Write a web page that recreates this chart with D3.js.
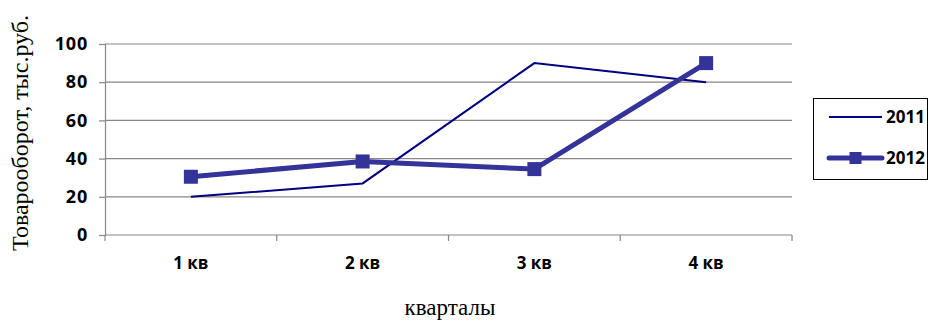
<!DOCTYPE html>
<html>
<head>
<meta charset="utf-8">
<script src="https://cdn.jsdelivr.net/npm/d3@7"></script>
<style>
  html, body { margin: 0; padding: 0; background: #fff; }
  svg { display: block; }
</style>
</head>
<body>
<svg id="chart" width="931" height="322"></svg>
<script>
// Quarterly turnover, thousand rubles
const quarters = ["1 кв", "2 кв", "3 кв", "4 кв"];
const values2011 = [20, 27, 90, 80];
const values2012 = [30.5, 38.5, 34.5, 90];
const yTicks = [0, 20, 40, 60, 80, 100];
const seriesNames = ["2011", "2012"];

const svg = d3.select("#chart");
const plot = { left: 105, right: 792, top: 44, bottom: 235 };

const x = d3.scaleBand().domain(quarters).range([plot.left, plot.right]).padding(0);
const y = d3.scaleLinear().domain([0, 100]).range([plot.bottom, plot.top]);

const boldFont = "'Open Sans', 'Liberation Sans', sans-serif";
const serifFont = "'Liberation Serif', 'DejaVu Serif', serif";

// horizontal gridlines
svg.append("g")
  .selectAll("line")
  .data(yTicks.filter(d => d > 0))
  .join("line")
  .attr("x1", plot.left).attr("x2", plot.right)
  .attr("y1", d => y(d)).attr("y2", d => y(d))
  .attr("stroke", "#868686").attr("stroke-width", 1.2);

// y axis
const yAxis = svg.append("g")
  .attr("transform", `translate(${plot.left},0)`)
  .call(d3.axisLeft(y).tickValues(yTicks).tickSize(6).tickPadding(11));
yAxis.attr("font-family", boldFont).attr("font-size", 18);
yAxis.select(".domain").attr("stroke", "#868686").attr("stroke-width", 1.2);
yAxis.selectAll(".tick line").attr("stroke", "#868686").attr("stroke-width", 1.2);
yAxis.selectAll("text")
  .attr("font-weight", "bold").attr("fill", "#000")
  .attr("letter-spacing", 0.8);

// x axis with ticks on category boundaries
const xAxisG = svg.append("g").attr("transform", `translate(0,${plot.bottom})`);
xAxisG.append("line")
  .attr("x1", plot.left).attr("x2", plot.right)
  .attr("stroke", "#868686").attr("stroke-width", 1.2);
const boundaries = quarters.map(q => x(q)).concat([x(quarters[quarters.length - 1]) + x.bandwidth()]);
xAxisG.selectAll("line.tick")
  .data(boundaries)
  .join("line").attr("class", "tick")
  .attr("x1", d => d).attr("x2", d => d)
  .attr("y1", 0).attr("y2", 6)
  .attr("stroke", "#868686").attr("stroke-width", 1.2);
xAxisG.selectAll("text")
  .data(quarters)
  .join("text")
  .attr("x", d => x(d) + x.bandwidth() / 2)
  .attr("y", 34)
  .attr("text-anchor", "middle")
  .attr("font-family", boldFont).attr("font-weight", "bold")
  .attr("font-size", 17).attr("fill", "#000")
  .text(d => d);

const cx = d => x(d) + x.bandwidth() / 2;
const line = d3.line().x(d => cx(d.q)).y(d => y(d.v));

// 2011 series: thin navy line
svg.append("path")
  .datum(quarters.map((q, i) => ({ q, v: values2011[i] })))
  .attr("d", line)
  .attr("fill", "none")
  .attr("stroke", "#000080").attr("stroke-width", 2);

// 2012 series: thick line with square markers
const data2012 = quarters.map((q, i) => ({ q, v: values2012[i] }));
svg.append("path")
  .datum(data2012)
  .attr("d", line)
  .attr("fill", "none")
  .attr("stroke", "#333399").attr("stroke-width", 5)
  .attr("stroke-linejoin", "round");
const ms = 14;
svg.append("g").selectAll("rect")
  .data(data2012)
  .join("rect")
  .attr("x", d => cx(d.q) - ms / 2).attr("y", d => y(d.v) - ms / 2)
  .attr("width", ms).attr("height", ms)
  .attr("fill", "#333399");

// legend
const legend = svg.append("g");
legend.append("rect")
  .attr("x", 813.5).attr("y", 98.5).attr("width", 114).attr("height", 81)
  .attr("fill", "#fff").attr("stroke", "#000").attr("stroke-width", 1);
const legY = [117, 158];
legend.append("line")
  .attr("x1", 829).attr("x2", 882).attr("y1", legY[0]).attr("y2", legY[0])
  .attr("stroke", "#000080").attr("stroke-width", 2);
legend.append("line")
  .attr("x1", 829).attr("x2", 882).attr("y1", legY[1]).attr("y2", legY[1])
  .attr("stroke", "#333399").attr("stroke-width", 5).attr("stroke-linecap", "round");
legend.append("rect")
  .attr("x", 855.5 - 6).attr("y", legY[1] - 6).attr("width", 12).attr("height", 12)
  .attr("fill", "#333399");
legend.selectAll("text")
  .data(seriesNames)
  .join("text")
  .attr("x", 886).attr("y", (d, i) => legY[i] + 6)
  .attr("font-family", boldFont).attr("font-weight", "bold")
  .attr("font-size", 17).attr("fill", "#000")
  .text(d => d);

// axis titles
svg.append("text")
  .attr("transform", `translate(28,133) rotate(-90)`)
  .attr("text-anchor", "middle")
  .attr("font-family", serifFont).attr("font-size", 24).attr("fill", "#000")
  .text("Товарооборот, тыс.руб.");
svg.append("text")
  .attr("x", 450).attr("y", 315)
  .attr("text-anchor", "middle")
  .attr("font-family", serifFont).attr("font-size", 23).attr("fill", "#000")
  .text("кварталы");
</script>
</body>
</html>
